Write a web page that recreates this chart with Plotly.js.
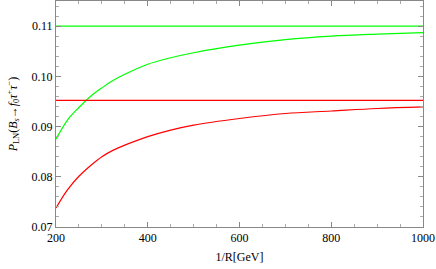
<!DOCTYPE html>
<html>
<head>
<meta charset="utf-8">
<script src="https://cdn.plot.ly/plotly-3.0.1.min.js"></script>
<style>html,body{margin:0;padding:0;background:#fff;}#chart{width:436px;height:269px;}</style>
</head>
<body>
<div id="chart"></div>
<script>
const invR = [200, 225, 250, 275, 300, 325, 350, 400, 450, 500, 600, 700, 800, 900, 1000];
const greenCurve = [0.0875, 0.0913, 0.0938, 0.0960, 0.0977, 0.0992, 0.1004, 0.1024, 0.1037, 0.1047, 0.1062, 0.1073, 0.1080, 0.1084, 0.1087];
const redCurve = [0.0738, 0.0774, 0.0801, 0.0822, 0.0840, 0.0853, 0.0863, 0.0880, 0.0893, 0.0903, 0.0916, 0.0926, 0.0931, 0.0936, 0.0939];
const greenConst = [0.1100, 0.1100];
const redConst = [0.0952, 0.0952];
const constX = [200, 1000];
const xTicks = [200, 400, 600, 800, 1000];
const yTicks = [0.07, 0.08, 0.09, 0.10, 0.11];
const yTickText = ['0.07', '0.08', '0.09', '0.10', '0.11'];

const FONT = 'Liberation Serif, Times New Roman, serif';
const traces = [
  {x: constX, y: greenConst, mode: 'lines', line: {color: '#00ff00', width: 1.2}},
  {x: invR, y: greenCurve, mode: 'lines', line: {color: '#00ff00', width: 1.2, shape: 'spline', smoothing: 1}},
  {x: constX, y: redConst, mode: 'lines', line: {color: '#ff0000', width: 1.2}},
  {x: invR, y: redCurve, mode: 'lines', line: {color: '#ff0000', width: 1.2, shape: 'spline', smoothing: 1}}
];
const axisCommon = {
  showgrid: false, zeroline: false, showline: true, linecolor: '#888', linewidth: 1,
  mirror: 'allticks', ticks: 'inside', ticklen: 5, tickcolor: '#888', tickwidth: 1,
  tickfont: {family: FONT, size: 12, color: '#000'}
};
const layout = {
  width: 436, height: 269,
  margin: {l: 56, r: 13, t: 1, b: 42},
  paper_bgcolor: '#fff', plot_bgcolor: '#fff',
  font: {family: FONT, size: 12, color: '#000'},
  showlegend: false,
  xaxis: Object.assign({}, axisCommon, {
    range: [200, 1000], tickvals: xTicks,
    minor: {dtick: 50, ticks: 'inside', ticklen: 3, tickcolor: '#aaa'},
    title: {text: '1/R[GeV]', font: {family: FONT, size: 12, color: '#000'}, standoff: 8}
  }),
  yaxis: Object.assign({}, axisCommon, {
    range: [0.07, 0.115], tickvals: yTicks, ticktext: yTickText,
    minor: {dtick: 0.002, tick0: 0.07, ticks: 'inside', ticklen: 3, tickcolor: '#aaa'},
    title: {text: '<i>P</i><sub>LN</sub>(<i>B</i><sub><i>s</i></sub>→<i>f</i><sub>0</sub><i>τ</i><sup>+</sup><i>τ</i><sup>−</sup>)', font: {family: FONT, size: 12, color: '#000'}, standoff: 11}
  })
};
Plotly.newPlot('chart', traces, layout, {displayModeBar: false});
</script>
</body>
</html>
